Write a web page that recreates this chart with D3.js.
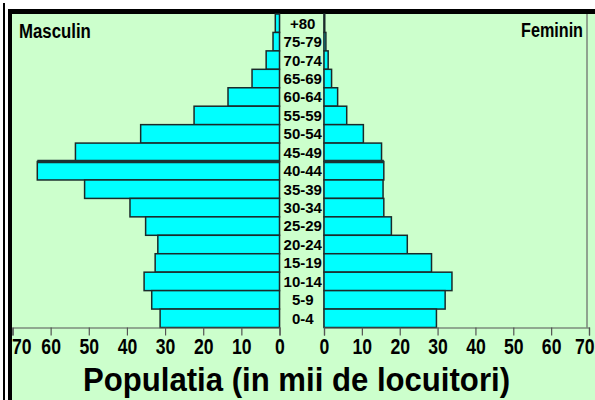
<!DOCTYPE html>
<html>
<head>
<meta charset="utf-8">
<script src="https://cdn.jsdelivr.net/npm/d3@7"></script>
<style>
    body { margin: 0; background: #fff; }
    svg { display: block; }
    .bold { font-family: "Liberation Sans", Arial, sans-serif; font-weight: bold; }
</style>
</head>
<body>
<script>
"use strict";

// age groups, top to bottom
var ages = ["+80", "75-79", "70-74", "65-69", "60-64", "55-59", "50-54", "45-49",
    "40-44", "35-39", "30-34", "25-29", "20-24", "15-19", "10-14", "5-9", "0-4"];

// thousands of people
var masculin = [1.1, 1.7, 3.5, 7.2, 13.5, 22.4, 36.4, 53.5,
    63.5, 51.1, 39.2, 35.1, 31.9, 32.6, 35.5, 33.5, 31.3];
var feminin = [0.2, 0.5, 1.1, 2.0, 3.6, 6.0, 10.4, 15.2,
    15.8, 15.6, 15.8, 17.8, 22.0, 28.4, 33.8, 32.0, 29.7];

var tickValues = [0, 10, 20, 30, 40, 50, 60, 70];

function init() {
    var w = 595;
    var h = 400;
    var top = 14, bottom = 327.5;
    var leftEdge = 12.5, leftZero = 279.5;
    var rightZero = 324, rightEdge = 589;

    var svg = d3.select("body")
        .append("svg")
        .attr("width", w)
        .attr("height", h);

    // background + frame
    svg.append("rect")
        .attr("x", 8).attr("y", 9)
        .attr("width", w - 8).attr("height", h - 9)
        .attr("fill", "#ccffcc");
    svg.append("rect")
        .attr("x", 3).attr("y", 3)
        .attr("width", 2).attr("height", h - 3)
        .attr("fill", "#000");
    svg.append("rect")
        .attr("x", 8).attr("y", 9)
        .attr("width", 4).attr("height", h - 9)
        .attr("fill", "#000");
    svg.append("rect")
        .attr("x", 8).attr("y", 9)
        .attr("width", w - 8).attr("height", 5)
        .attr("fill", "#000");

    var yScale = d3.scaleBand()
        .domain(ages)
        .range([top, bottom]);

    var xMale = d3.scaleLinear()
        .domain([70, 0])
        .range([leftEdge, leftZero]);

    var xFemale = d3.scaleLinear()
        .domain([0, 70])
        .range([rightZero, rightEdge]);

    // panel edges
    [leftZero, rightZero, 587].forEach(function (x) {
        svg.append("line")
            .attr("x1", x).attr("x2", x)
            .attr("y1", top).attr("y2", bottom)
            .attr("stroke", "#666")
            .attr("stroke-width", 1.2);
    });

    //Create bars
    svg.selectAll("rect.male")
        .data(masculin)
        .enter()
        .append("rect")
        .attr("class", "male")
        .attr("x", function (d) { return xMale(d); })
        .attr("y", function (d, i) { return yScale(ages[i]); })
        .attr("width", function (d) { return leftZero - xMale(d); })
        .attr("height", yScale.bandwidth())
        .attr("fill", "#00ffff")
        .attr("stroke", "#1a2a2a")
        .attr("stroke-width", 1.5);

    svg.selectAll("rect.female")
        .data(feminin)
        .enter()
        .append("rect")
        .attr("class", "female")
        .attr("x", rightZero)
        .attr("y", function (d, i) { return yScale(ages[i]); })
        .attr("width", function (d) { return xFemale(d) - rightZero; })
        .attr("height", yScale.bandwidth())
        .attr("fill", "#00ffff")
        .attr("stroke", "#1a2a2a")
        .attr("stroke-width", 1.5);

    // darker edge on top of 40-44 bars
    var y40 = yScale("40-44");
    var i40 = ages.indexOf("40-44");
    svg.append("line")
        .attr("x1", xMale(masculin[i40])).attr("x2", leftZero)
        .attr("y1", y40).attr("y2", y40)
        .attr("stroke", "#1a3333").attr("stroke-width", 3.5);
    svg.append("line")
        .attr("x1", rightZero).attr("x2", xFemale(feminin[i40]))
        .attr("y1", y40).attr("y2", y40)
        .attr("stroke", "#1a3333").attr("stroke-width", 3.5);

    // age labels
    svg.selectAll("text.age")
        .data(ages)
        .enter()
        .append("text")
        .attr("class", "age bold")
        .attr("x", (leftZero + rightZero) / 2 + 1)
        .attr("y", function (d) { return yScale(d) + yScale.bandwidth() / 2; })
        .attr("dy", "0.36em")
        .attr("text-anchor", "middle")
        .style("font-size", "15px")
        .text(function (d) { return d; });

    // axes
    var axisMale = svg.append("g")
        .attr("transform", "translate(0," + bottom + ")")
        .call(d3.axisBottom(xMale).tickValues(tickValues).tickSize(8).tickPadding(3));
    var axisFemale = svg.append("g")
        .attr("transform", "translate(0," + bottom + ")")
        .call(d3.axisBottom(xFemale).tickValues(tickValues).tickSize(8).tickPadding(3));

    [axisMale, axisFemale].forEach(function (g) {
        g.select(".domain").attr("stroke", "#555").attr("stroke-width", 1.2);
        g.selectAll(".tick line").attr("stroke", "#555").attr("stroke-width", 1.2);
        g.selectAll(".tick text")
            .attr("class", "bold")
            .attr("fill", "#000")
            .attr("transform", "scale(0.8,1)")
            .style("font-size", "22px");
    });
    axisMale.selectAll(".tick text")
        .filter(function (d) { return d === 70; })
        .attr("dx", 11);
    axisFemale.selectAll(".tick text")
        .filter(function (d) { return d === 70; })
        .attr("dx", -6);

    // labels
    svg.append("text")
        .attr("class", "bold")
        .attr("transform", "translate(19,38) scale(0.8,1)")
        .style("font-size", "21px")
        .text("Masculin");
    svg.append("text")
        .attr("class", "bold")
        .attr("transform", "translate(583,37) scale(0.77,1)")
        .attr("text-anchor", "end")
        .style("font-size", "21px")
        .text("Feminin");

    svg.append("text")
        .attr("class", "bold")
        .attr("x", 83).attr("y", 391)
        .attr("textLength", 427)
        .attr("lengthAdjust", "spacingAndGlyphs")
        .style("font-size", "34px")
        .text("Populatia (in mii de locuitori)");
}

window.onload = init;
</script>
</body>
</html>
